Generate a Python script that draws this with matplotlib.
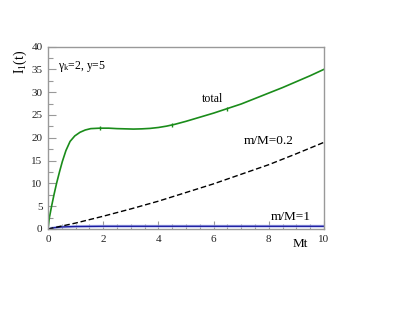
import matplotlib
matplotlib.use("Agg")
import matplotlib.pyplot as plt
from matplotlib.ticker import MultipleLocator

plt.rcParams['font.family'] = ['Liberation Serif', 'DejaVu Serif']
plt.rcParams['mathtext.fontset'] = 'custom'
plt.rcParams['mathtext.rm'] = 'Liberation Serif'
plt.rcParams['mathtext.it'] = 'Liberation Serif:italic'

# total
t_total = [0, 0.05, 0.13, 0.22, 0.31, 0.42, 0.52, 0.65, 0.8, 0.97, 1.16, 1.35, 1.55, 1.88,
           2.2, 2.5, 2.8, 3.1, 3.4, 3.7, 4.0, 4.3, 4.6, 5.0, 5.5, 6.0, 6.5, 7.0, 7.5,
           8.0, 8.5, 9.0, 9.5, 10.0]
v_total = [0, 2.5, 5.0, 7.6, 10.0, 12.6, 14.8, 17.2, 19.2, 20.4, 21.2, 21.7, 22.0, 22.1,
           22.1, 22.0, 21.95, 21.9, 21.95, 22.05, 22.25, 22.55, 22.95, 23.6, 24.5, 25.4,
           26.4, 27.4, 28.6, 29.8, 31.0, 32.3, 33.6, 35.0]
marker_t = [1.88, 4.5, 6.5]
marker_v = [22.1, 22.8, 26.4]

# m/M = 0.2
t_02 = [0, 1, 2, 3, 4, 5, 6, 7, 8, 9, 10]
v_02 = [0, 1.3, 2.8, 4.4, 6.1, 8.0, 9.9, 12.0, 14.1, 16.5, 19.0]

# m/M = 1
t_1 = [0, 0.25, 0.5, 1, 2, 3, 4, 5, 6, 7, 8, 9, 10]
v_1 = [0, 0.3, 0.45, 0.55, 0.6, 0.6, 0.6, 0.6, 0.6, 0.6, 0.6, 0.6, 0.6]

fig = plt.figure(figsize=(4.15, 3.23), dpi=100)
ax = fig.add_axes([48/415, 1-229/323, (324-48)/415, (229-46.5)/323])

green = '#1a8c1a'
ax.plot(t_1, v_1, color='#b4bdf0', lw=2.2, alpha=0.8, solid_capstyle='butt')
ax.plot(t_1, v_1, color='#1a1aa0', lw=1.0)
ax.plot(t_02, v_02, color='black', lw=1.0, ls=(0, (4, 2)))
ax.plot(t_total, v_total, color=green, lw=1.2)
ax.plot(marker_t, marker_v, ls='none', marker='|', ms=3, mew=1, color=green)

ax.set_xlim(0, 10)
ax.set_ylim(0, 40)
ax.xaxis.set_major_locator(MultipleLocator(2))
ax.xaxis.set_minor_locator(MultipleLocator(0.5))
ax.yaxis.set_major_locator(MultipleLocator(5))
ax.yaxis.set_minor_locator(MultipleLocator(2.5))
ax.tick_params(which='both', direction='in', color='#999999', top=False, right=False,
               labelsize=8, labelcolor='#222222')
ax.tick_params(which='major', length=6, width=0.8, pad=4)
ax.tick_params(which='minor', length=3.5, width=0.8)
for s in ax.spines.values():
    s.set_color('#999999')
    s.set_linewidth(1.0)

fig.text(20/415, 1-62/323, r'$\mathregular{I_1}$(t)', rotation=90, ha='center', va='center',
         fontsize=10)
fig.text(300/415, 1-244/323, 'Mt', ha='center', va='center', fontsize=9.5)
ax.text(0.35, 35.7, r'$\mathregular{\gamma_k}$=2, y=5', ha='left', va='center', fontsize=8.5)
ax.text(5.95, 28.4, 'total', ha='center', va='center', fontsize=8.5)
ax.text(8.0, 19.2, 'm/M=0.2', ha='center', va='center', fontsize=9.5)
ax.text(8.78, 2.6, 'm/M=1', ha='center', va='center', fontsize=9.5)

fig.savefig('out.png', dpi=100)
